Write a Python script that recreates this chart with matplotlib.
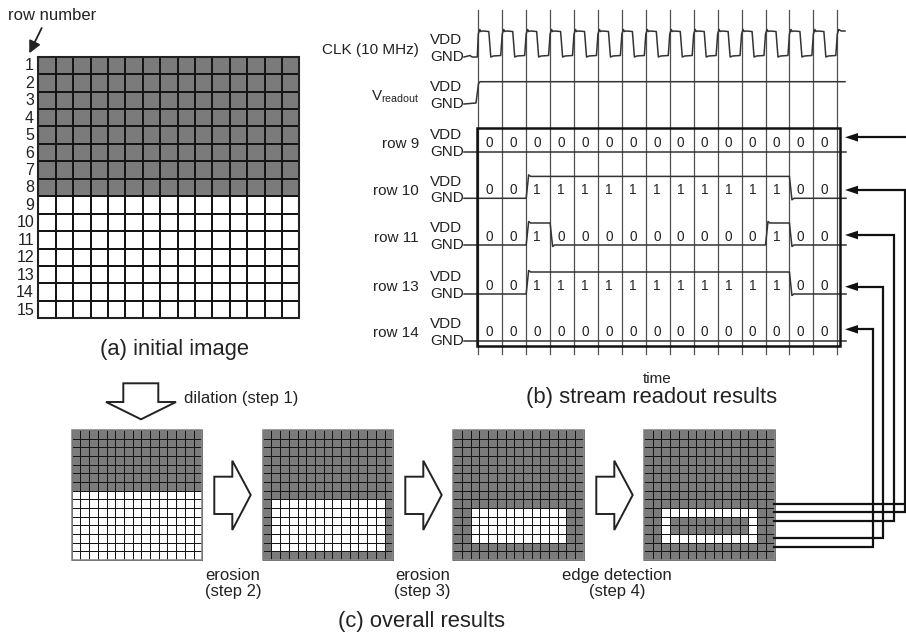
import numpy as np
import matplotlib
matplotlib.use('Agg')
import matplotlib.pyplot as plt
from matplotlib.patches import Polygon, Rectangle
from matplotlib.colors import ListedColormap

plt.rcParams['font.family'] = ['Liberation Sans', 'DejaVu Sans']

# ---- images ('#' = gray pixel, '.' = white pixel) ----
img_initial = ['###############'] * 8 + ['...............'] * 7

img_step1 = ['###############'] * 7 + ['...............'] * 8

img_step2 = (['###############'] * 8 +
             ['#.............#'] * 6 +
             ['###############'])

img_step3 = (['###############'] * 9 +
             ['##...........##'] * 4 +
             ['###############'] * 2)

img_step4 = (['###############'] * 9 +
             ['##...........##',
              '##.#########.##',
              '##.#########.##',
              '##...........##'] +
             ['###############'] * 2)

row_numbers = [str(i) for i in range(1, 16)]

# ---- stream readout ----
sig_names = ['CLK (10 MHz)', r'V$_\mathregular{readout}$',
             'row 9', 'row 10', 'row 11', 'row 13', 'row 14']
readout_rows = [9, 10, 11, 13, 14]
readout_bits = [
    [0, 0, 0, 0, 0, 0, 0, 0, 0, 0, 0, 0, 0, 0, 0],
    [0, 0, 1, 1, 1, 1, 1, 1, 1, 1, 1, 1, 1, 0, 0],
    [0, 0, 1, 0, 0, 0, 0, 0, 0, 0, 0, 0, 1, 0, 0],
    [0, 0, 1, 1, 1, 1, 1, 1, 1, 1, 1, 1, 1, 0, 0],
    [0, 0, 0, 0, 0, 0, 0, 0, 0, 0, 0, 0, 0, 0, 0],
]

# label / level positions (pixels)
vdd_y = [40.5, 87, 135, 181.7, 228.3, 277.3, 324]
gnd_y = [57, 104, 151.7, 198.3, 245, 294, 340.7]
clk_x = np.linspace(478.3, 837.3, 16)
wire_x = [915, 905, 894.3, 883.3, 873.3]
arrow_y = [137.3, 190, 235, 286.7, 329.3]

GRAY = '#7b7b7b'
TRACE = '#333333'

fig = plt.figure(figsize=(9.06, 6.35), dpi=100)
ax = fig.add_axes([0, 0, 1, 1])
ax.set_xlim(0, 906)
ax.set_ylim(635, 0)
ax.axis('off')
cmap = ListedColormap(['white', GRAY])


def to_array(img):
    return np.array([[1 if c == '#' else 0 for c in r] for r in img])


def draw_grid(img, x0, y0, w, h, lw, border, blw):
    a = to_array(img)
    xe = np.linspace(x0, x0 + w, a.shape[1] + 1)
    ye = np.linspace(y0, y0 + h, a.shape[0] + 1)
    ax.pcolormesh(xe, ye, a, cmap=cmap, vmin=0, vmax=1,
                  edgecolors='#151515', linewidth=lw)
    ax.add_patch(Rectangle((x0, y0), w, h, fill=False, ec=border,
                           lw=blw, zorder=3))
    return ye


# (a) initial image
ye = draw_grid(img_initial, 38.3, 56.7, 261, 261.6, 1.2, '#222222', 1.5)
for i, lab in enumerate(row_numbers):
    ax.text(34, (ye[i] + ye[i + 1]) / 2 + 0.5, lab, ha='right', va='center',
            fontsize=11.5, color='#222222')
ax.text(8, 16, 'row number', ha='left', va='center', fontsize=12, color='#222222')
ax.annotate('', xy=(29.3, 53.3), xytext=(41.7, 28),
            arrowprops=dict(arrowstyle='-|>', lw=1.3, color='#222222',
                            mutation_scale=18, shrinkA=0, shrinkB=0))
ax.text(175, 350, '(a) initial image', ha='center', va='center',
        fontsize=15.8, color='#222222')

# (b) stream readout
for x in clk_x:
    ax.plot([x, x], [10, 354], color='#505050', lw=0.9, zorder=1)

for i, name in enumerate(sig_names):
    ax.text(419, (vdd_y[i] + gnd_y[i]) / 2 + 1, name, ha='right', va='center',
            fontsize=11, color='#222222')
    ax.text(430, vdd_y[i], 'VDD', ha='left', va='center', fontsize=11, color='#222222')
    ax.text(430, gnd_y[i], 'GND', ha='left', va='center', fontsize=11, color='#222222')

# clock trace
lo, hi = gnd_y[0], vdd_y[0] - 9.5
xs, ys = [464, 470, 472, clk_x[0] - 1], [lo, lo - 1.5, lo, lo]
for k, x in enumerate(clk_x):
    xs += [x, x + 1.5, x + 2.5, x + 4, x + 10.5, x + 12.5, x + 15]
    ys += [hi + 3, hi - 1.5, hi + 0.5, hi, hi + 0.5, lo, lo - 1]
    if k < len(clk_x) - 1:
        xs += [clk_x[k + 1] - 1.5]
        ys += [lo - 1.5]
xs = xs[:-5] + [clk_x[-1] + 4, 845]
ys = ys[:-5] + [hi, hi]
ax.plot(xs, ys, color=TRACE, lw=1.1, zorder=4)

# V readout trace
lo, hi = gnd_y[1], vdd_y[1] - 5.3
ax.plot([464, 476, 478.5, 480, 845], [lo, lo - 1, hi + 2, hi, hi],
        color=TRACE, lw=1.1, zorder=4)

# readout rows
for r, bits in enumerate(readout_bits):
    i = r + 2
    lo, hi = gnd_y[i], vdd_y[i] - 5.3
    xs, ys = [464, clk_x[0]], [lo, lo]
    prev = 0
    for k, b in enumerate(bits):
        lvl = hi if b else lo
        if b != prev:
            xs += [clk_x[k] + 2.5, clk_x[k] + 4.5]
            ys += [lvl - 1.5 if b else lvl + 1.5, lvl]
        xs.append(clk_x[k + 1])
        ys.append(lvl)
        prev = b
    xs.append(846)
    ys.append(ys[-1])
    ax.plot(xs, ys, color=TRACE, lw=1.1, zorder=4)
    ym = (vdd_y[i] + gnd_y[i]) / 2
    for k, b in enumerate(bits):
        ax.text((clk_x[k] + clk_x[k + 1]) / 2 - 1, ym, str(b), ha='center',
                va='center', fontsize=9.8, color='#222222', zorder=5)

ax.add_patch(Rectangle((476.5, 128), 363, 218, fill=False, ec='#111111',
                       lw=1.8, zorder=5))
ax.text(657, 379, 'time', ha='center', va='center', fontsize=11, color='#222222')
ax.text(651.5, 398, '(b) stream readout results', ha='center', va='center',
        fontsize=15.8, color='#222222')

# (c) overall results
grid_x = [71.7, 262.7, 453.3, 644]
grid_w, grid_h, grid_y = 130.5, 130, 430
for img, gx in zip([img_step1, img_step2, img_step3, img_step4], grid_x):
    ye4 = draw_grid(img, gx, grid_y, grid_w, grid_h, 0.6, '#8a8a8a', 1.2)

# down block arrow (dilation)
ax.add_patch(Polygon([(123.3, 383.3), (158.3, 383.3), (158.3, 402), (176, 402),
                      (141, 419.3), (106, 402), (123.3, 402)],
                     closed=True, fc='white', ec='#222222', lw=1.4))
ax.text(184, 398, 'dilation (step 1)', ha='left', va='center', fontsize=12,
        color='#222222')

# right block arrows
for k in range(3):
    dx = 191 * k
    ax.add_patch(Polygon([(214.3 + dx, 476.7), (232.3 + dx, 476.7), (232.3 + dx, 460.7),
                          (250.7 + dx, 495), (232.3 + dx, 530), (232.3 + dx, 514),
                          (214.3 + dx, 514)],
                         closed=True, fc='white', ec='#222222', lw=1.4))

step_labels = ['erosion\n(step 2)', 'erosion\n(step 3)', 'edge detection\n(step 4)']
for lab, x in zip(step_labels, [233, 422.7, 617]):
    ax.text(x, 583.5, lab, ha='center', va='center', fontsize=12,
            color='#222222', linespacing=1.05)
ax.text(421.5, 621, '(c) overall results', ha='center', va='center',
        fontsize=15.8, color='#222222')

# wires from edge image back to readout rows
for row, xv, ya in zip(readout_rows, wire_x, arrow_y):
    yr = (ye4[row - 1] + ye4[row]) / 2
    ax.plot([774.3, xv, xv, 857], [yr, yr, ya, ya], color='#111111',
            lw=1.6, solid_joinstyle='miter', zorder=6)
    ax.add_patch(Polygon([(845, ya), (858, ya - 4.3), (858, ya + 4.3)],
                         closed=True, fc='#111111', ec='none', zorder=6))

fig.savefig('out.png', dpi=100)
